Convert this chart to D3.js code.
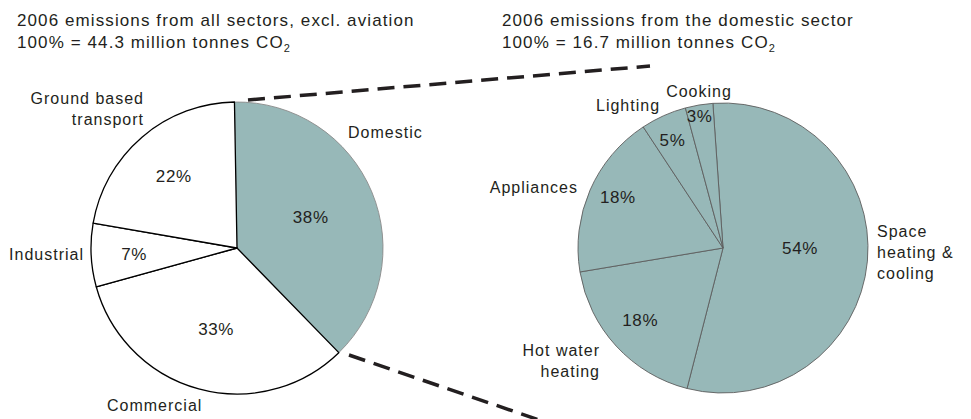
<!DOCTYPE html>
<html>
<head>
<meta charset="utf-8">
<script src="https://cdnjs.cloudflare.com/ajax/libs/d3/7.8.5/d3.min.js"></script>
<style>
  body { margin: 0; background: #fff; }
  text { font-family: "Liberation Sans", Arial, sans-serif; fill: #231f20; }
</style>
</head>
<body>
<div id="chart-area"></div>
<script>
// data
const leftCategories = ["Domestic", "Commercial", "Industrial", "Ground based transport"];
const leftValues = [38, 33, 7, 22];
const rightCategories = ["Space heating & cooling", "Hot water heating", "Appliances", "Lighting", "Cooking"];
const rightValues = [54, 18, 18, 5, 3];
const leftTitle = ["2006 emissions from all sectors, excl. aviation", "100% = 44.3 million tonnes CO"];
const rightTitle = ["2006 emissions from the domestic sector", "100% = 16.7 million tonnes CO"];

// layout
const width = 971, height = 419;
const teal = "#97b8b8";
const rad = deg => deg * Math.PI / 180;

const leftPie = {cx: 237, cy: 248, r: 146, start: -1};
const rightPie = {cx: 723, cy: 248, r: 145, start: -4};

// category label lines + placement relative to pie centre
const leftNames = [
  {lines: ["Domestic"], dx: 111, dy: -110, anchor: "start"},
  {lines: ["Commercial"], dx: -130, dy: 163, anchor: "start"},
  {lines: ["Industrial"], dx: -153, dy: 12, anchor: "end"},
  {lines: ["Ground based", "transport"], dx: -93, dy: -144, anchor: "end"}
];
const rightNames = [
  {lines: ["Space", "heating &", "cooling"], dx: 154, dy: -11, anchor: "start"},
  {lines: ["Hot water", "heating"], dx: -123, dy: 108, anchor: "end"},
  {lines: ["Appliances"], dx: -145, dy: -55, anchor: "end"},
  {lines: ["Lighting"], dx: -127, dy: -137, anchor: "start"},
  {lines: ["Cooking"], dx: -24, dy: -151, anchor: "middle"}
];
// percent label radius and angle nudge (deg)
const leftPct = [{r: 80, da: -0.3}, {r: 84, da: -0.8}, {r: 103, da: -0.8}, {r: 96, da: -0.6}];
const rightPct = [{r: 77, da: -4.8}, {r: 110, da: 1.4}, {r: 117, da: 2.4}, {r: 119, da: -0.9}, {r: 134, da: -0.5}];

let svg = d3.select("#chart-area")
  .append("svg")
  .attr("width", width)
  .attr("height", height);

// titles
function drawTitle(x, lines) {
  let t = svg.append("g");
  lines.forEach((line, i) => {
    let txt = t.append("text")
      .attr("x", x)
      .attr("y", 26 + i * 21.5)
      .attr("font-size", "17px")
      .attr("letter-spacing", "1.1px")
      .text(line);
    if (i == 1) {
      txt.append("tspan")
        .attr("dy", 4)
        .attr("font-size", "11px")
        .text("2");
    }
  });
}
drawTitle(17, leftTitle);
drawTitle(502, rightTitle);

// connector dashes
const connectors = [
  [[248, 100], [650, 66]],
  [[349, 355], [545, 422]]
];
svg.selectAll(".conn").data(connectors).enter().append("line")
  .attr("class", "conn")
  .attr("x1", d => d[0][0]).attr("y1", d => d[0][1])
  .attr("x2", d => d[1][0]).attr("y2", d => d[1][1])
  .attr("stroke", "#231f20")
  .attr("stroke-width", 3.5)
  .attr("stroke-dasharray", "17 9");

function drawPie(p, categories, values, names, pct, fill, stroke) {
  let pie = d3.pie().sort(null)
    .startAngle(rad(p.start))
    .endAngle(rad(p.start + 360));
  let arcs = pie(values);
  let arc = d3.arc().innerRadius(0).outerRadius(p.r);

  let g = svg.append("g")
    .attr("transform", `translate(${p.cx}, ${p.cy})`);

  g.selectAll("path").data(arcs).enter().append("path")
    .attr("d", arc)
    .attr("fill", (d, i) => fill(i))
    .attr("stroke", (d, i) => stroke(i))
    .attr("stroke-width", (d, i) => stroke(i) == "#000" ? 1.3 : 0.9)
    .attr("stroke-linejoin", "round");

  // percentages
  g.selectAll(".pct").data(arcs).enter().append("text")
    .attr("class", "pct")
    .attr("transform", (d, i) => {
      let a = (d.startAngle + d.endAngle) / 2 + rad(pct[i].da);
      let pt = d3.pointRadial(a, pct[i].r);
      return `translate(${pt[0]}, ${pt[1]})`;
    })
    .attr("dy", "0.35em")
    .attr("text-anchor", "middle")
    .attr("font-size", "17px")
    .attr("letter-spacing", "0.6px")
    .text(d => d.value + "%");

  // category names
  names.forEach((n, i) => {
    let t = g.append("text")
      .attr("font-size", "16px")
      .attr("letter-spacing", "1px")
      .attr("text-anchor", n.anchor);
    n.lines.forEach((line, j) => {
      t.append("tspan")
        .attr("x", n.dx)
        .attr("y", n.dy + j * 21)
        .text(line);
    });
    t.append("title").text(categories[i]);
  });
}

drawPie(leftPie, leftCategories, leftValues, leftNames, leftPct,
  i => i == 0 ? teal : "#fff",
  i => i == 0 ? "#8a8a8a" : "#000");

drawPie(rightPie, rightCategories, rightValues, rightNames, rightPct,
  i => teal,
  i => "#5e5e5e");
</script>
</body>
</html>
